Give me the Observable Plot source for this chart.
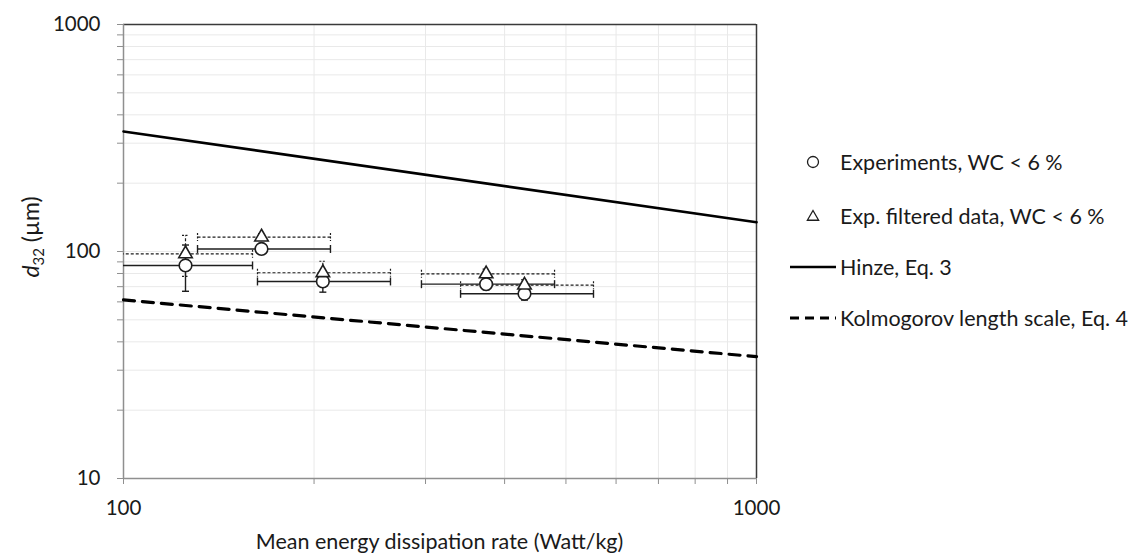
<!DOCTYPE html>
<html>
<head>
<meta charset="utf-8">
<script src="https://cdn.jsdelivr.net/npm/d3@7"></script>
<script src="https://cdn.jsdelivr.net/npm/@observablehq/plot@0.6"></script>
<style>
  html, body { margin: 0; padding: 0; background: #fff; }
  #wrap { position: relative; width: 1137px; height: 554px; font-family: Lato, "Open Sans", sans-serif; }
  #legend { position: absolute; left: 0; top: 0; pointer-events: none; }
</style>
</head>
<body>
<div id="wrap"></div>
<script>
// ---- Data ----
const xTicks = [100, 200, 300, 400, 500, 600, 700, 800, 900, 1000];
const xLabelTicks = [100, 1000];
const yTicks = [10, 20, 30, 40, 50, 60, 70, 80, 90, 100, 200, 300, 400, 500, 600, 700, 800, 900, 1000];
const yLabelTicks = [10, 100, 1000];

// Experiments, WC < 6 %
const expX    = [125.3, 165.2, 206.5, 374.0, 430.0];
const expXLo  = [99.0, 130.9, 162.8, 295.6, 340.8];
const expXHi  = [159.9, 212.3, 264.1, 479.7, 552.7];
const expY    = [86.8, 102.6, 73.8, 71.8, 65.1];
const expYErr = [20, 5, 7.6, 4, 4];

// Exp. filtered data, WC < 6 %
const filtY    = [97.7, 115.8, 80.6, 79.7, 71.1];
const filtYErr = [20, 4, 10, 4, 4];

// Hinze, Eq. 3
const hinzeX = [100, 1000];
const hinzeY = [338, 134.6];

// Kolmogorov length scale, Eq. 4
const kolmoX = [100, 1000];
const kolmoY = [61.2, 34.4];

const legendLabels = [
  "Experiments, WC < 6 %",
  "Exp. filtered data, WC < 6 %",
  "Hinze, Eq. 3",
  "Kolmogorov length scale, Eq. 4"
];
const xTitle = "Mean energy dissipation rate (Watt/kg)";

// ---- Tables built from the arrays ----
const exp = expX.map((x, i) => ({x, y: expY[i], lo: expXLo[i], hi: expXHi[i], e: expYErr[i]}));
const filt = expX.map((x, i) => ({x, y: filtY[i], lo: expXLo[i], hi: expXHi[i], e: filtYErr[i]}));
const hinze = hinzeX.map((x, i) => ({x, y: hinzeY[i]}));
const kolmo = kolmoX.map((x, i) => ({x, y: kolmoY[i]}));

const hCapsOf = (d) => d.flatMap(p => [{x: p.lo, y: p.y}, {x: p.hi, y: p.y}]);
const vCapsOf = (d) => d.flatMap(p => [{x: p.x, y: p.y - p.e}, {x: p.x, y: p.y + p.e}]);

// custom cap symbols
const vCap = {draw(ctx, size) { const r = Math.sqrt(size / Math.PI); ctx.moveTo(0, -r); ctx.lineTo(0, r); }};
const hCap = {draw(ctx, size) { const r = Math.sqrt(size / Math.PI); ctx.moveTo(-r, 0); ctx.lineTo(r, 0); }};

const ink = "#1e1e1e";
const gridColor = "#e9e9e9";
const axisGray = "#8f8f8f";
const FONT = "Lato, 'Open Sans', sans-serif";

const solidBar = {stroke: ink, strokeWidth: 1.4};
const dashBar = {stroke: ink, strokeWidth: 1.2, strokeDasharray: "3,2"};

const plot = Plot.plot({
  width: 1137,
  height: 554,
  marginLeft: 123,
  marginRight: 381,
  marginTop: 24,
  marginBottom: 76,
  style: {fontFamily: FONT, fontSize: "20px", background: "#fff"},
  x: {type: "log", domain: [100, 1000]},
  y: {type: "log", domain: [10, 1000]},
  marks: [
    Plot.gridX(xTicks.filter(d => d !== 100 && d !== 1000), {stroke: gridColor, strokeOpacity: 1, strokeWidth: 1}),
    Plot.gridY(yTicks.filter(d => d !== 10 && d !== 1000), {stroke: gridColor, strokeOpacity: 1, strokeWidth: 1}),

    // frame: gray axes left/bottom, dark border top/right
    Plot.ruleY([1000], {stroke: "#3a3a3a", strokeWidth: 1.5}),
    Plot.ruleX([1000], {stroke: "#3a3a3a", strokeWidth: 1.5}),

    Plot.axisY({ticks: yTicks, tickSize: 6, tickPadding: 17, stroke: axisGray, fill: "#1a1a1a",
      fontSize: 20.5, label: null, tickFormat: d => yLabelTicks.includes(d) ? String(d) : ""}),
    Plot.axisX({ticks: xTicks, tickSize: 6, tickPadding: 16, stroke: axisGray, fill: "#1a1a1a",
      fontSize: 20.5, label: null, tickFormat: d => xLabelTicks.includes(d) ? String(d) : ""}),
    Plot.ruleX([100], {stroke: axisGray, strokeWidth: 1.5}),
    Plot.ruleY([10], {stroke: axisGray, strokeWidth: 1.5}),

    // model lines
    Plot.line(hinze, {x: "x", y: "y", stroke: "#000", strokeWidth: 2.6}),
    Plot.line(kolmo, {x: "x", y: "y", stroke: "#000", strokeWidth: 3.2, strokeDasharray: "11,8"}),

    // error bars: experiments (solid)
    Plot.link(exp, {x1: "lo", x2: "hi", y1: "y", y2: "y", ...solidBar, clip: true}),
    Plot.link(exp, {x1: "x", x2: "x", y1: d => d.y - d.e, y2: d => d.y + d.e, ...solidBar, clip: true}),
    Plot.dot(hCapsOf(exp), {x: "x", y: "y", symbol: vCap, r: 4, fill: "none", ...solidBar, clip: true}),
    Plot.dot(vCapsOf(exp), {x: "x", y: "y", symbol: hCap, r: 3.5, fill: "none", ...solidBar, clip: true}),

    // error bars: filtered (dashed)
    Plot.link(filt, {x1: "lo", x2: "hi", y1: "y", y2: "y", ...dashBar, clip: true}),
    Plot.link(filt, {x1: "x", x2: "x", y1: d => d.y - d.e, y2: d => d.y + d.e, ...dashBar, clip: true}),
    Plot.dot(hCapsOf(filt), {x: "x", y: "y", symbol: vCap, r: 4, fill: "none", ...dashBar, strokeDasharray: "2,1.5", clip: true}),
    Plot.dot(vCapsOf(filt), {x: "x", y: "y", symbol: hCap, r: 3.5, fill: "none", ...dashBar, strokeDasharray: "2,1.5", clip: true}),

    // markers
    Plot.dot(exp, {x: "x", y: "y", r: 6.3, symbol: "circle", fill: "#fff", stroke: ink, strokeWidth: 1.6}),
    Plot.dot(filt, {x: "x", y: "y", r: 5, symbol: "triangle", fill: "#fff", stroke: ink, strokeWidth: 1.6})
  ]
});

const wrap = document.getElementById("wrap");
wrap.appendChild(plot);

// ---- Axis titles (text, positioned from the scales) ----
const svg = d3.select(plot);
const xs = plot.scale("x"), ys = plot.scale("y");
const xMid = (xs.range[0] + xs.range[1]) / 2;
const yMid = (ys.range[0] + ys.range[1]) / 2;

svg.append("text")
  .attr("x", xMid).attr("y", 541)
  .attr("text-anchor", "middle").attr("dy", "0.35em")
  .attr("font-family", FONT).attr("font-size", 21.5).attr("fill", "#1a1a1a")
  .text(xTitle);

const yt = svg.append("text")
  .attr("transform", `translate(31,${yMid - 14}) rotate(-90)`)
  .attr("text-anchor", "middle").attr("dy", "0.35em")
  .attr("font-family", FONT).attr("font-size", 23).attr("fill", "#1a1a1a");
yt.append("tspan").attr("font-style", "italic").text("d");
yt.append("tspan").attr("font-size", 15).attr("dy", "0.35em").text("32");
yt.append("tspan").attr("dy", "-0.25em").text(" (µm)");

// ---- Legend (right side) ----
const lg = d3.select(wrap).append("svg")
  .attr("id", "legend").attr("width", 1137).attr("height", 554);
const rowY = [162, 216, 267, 318];
const symX = 813, textX = 840;
const rows = lg.selectAll("g").data(legendLabels).join("g")
  .attr("transform", (d, i) => `translate(0,${rowY[i]})`);
rows.append("text")
  .attr("x", textX).attr("dy", "0.35em")
  .attr("font-family", FONT).attr("font-size", 21.5).attr("fill", "#1a1a1a")
  .text(d => d);
rows.filter((d, i) => i === 0).append("circle")
  .attr("cx", symX).attr("r", 5.5).attr("fill", "#fff").attr("stroke", ink).attr("stroke-width", 1.3);
rows.filter((d, i) => i === 1).append("path")
  .attr("transform", `translate(${symX},1)`)
  .attr("d", d3.symbol(d3.symbolTriangle, 55)())
  .attr("fill", "#fff").attr("stroke", ink).attr("stroke-width", 1.3);
rows.filter((d, i) => i === 2).append("line")
  .attr("x1", 790).attr("x2", 836).attr("stroke", "#000").attr("stroke-width", 2.6);
rows.filter((d, i) => i === 3).append("line")
  .attr("x1", 790).attr("x2", 836).attr("stroke", "#000").attr("stroke-width", 3)
  .attr("stroke-dasharray", "9,6");
</script>
</body>
</html>
